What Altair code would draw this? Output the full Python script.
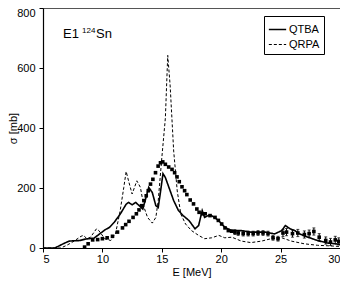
import altair as alt
import pandas as pd

# QTBA (solid)
qtba_e = [5.0, 6.0, 6.2, 6.7, 7.2, 8.1, 8.6, 9.3, 9.7, 10.2, 10.6, 11.0, 11.5, 12.0, 12.2, 12.5, 12.8,
          13.1, 13.4, 13.6, 13.9, 14.2, 14.5, 14.7, 14.9, 15.1, 15.3, 15.6, 16.0, 16.4, 16.8, 17.3,
          17.8, 18.1, 18.4, 18.6, 18.9, 19.2, 19.8, 20.3, 20.9, 21.7, 22.5, 23.7, 24.5, 25.1, 25.4,
          25.8, 26.2, 26.6, 27.3, 28.1, 28.9, 30.0]
qtba_s = [0, 0, 4, 14, 23, 25, 30, 33, 45, 60, 69, 86, 113, 146, 152, 144, 152,
          141, 130, 158, 202, 185, 141, 135, 190, 248, 235, 202, 158, 125, 108, 91,
          64, 75, 125, 102, 108, 108, 91, 69, 58, 58, 53, 53, 47, 58, 75,
          64, 58, 47, 36, 25, 17, 12]

# QRPA (dashed)
qrpa_e = [5.0, 6.5, 7.0, 7.5, 8.2, 8.4, 8.7, 9.0, 9.5, 9.7, 10.2, 10.7, 11.1, 11.5, 11.8, 12.0,
          12.2, 12.5, 12.7, 12.9, 13.2, 13.5, 13.8, 14.2, 14.5, 14.7, 15.0, 15.3, 15.5, 15.7, 16.0,
          16.3, 16.6, 17.0, 17.5, 18.1, 18.6, 19.2, 19.8, 20.3, 20.9, 21.7, 22.5, 23.4, 24.2, 25.1,
          25.9, 27.0, 28.1, 29.2, 30.0]
qrpa_s = [0, 0, 9, 20, 39, 42, 31, 36, 64, 58, 31, 25, 47, 125, 202, 255,
          224, 180, 202, 224, 202, 136, 102, 83, 102, 158, 300, 433, 642, 543, 323,
          190, 113, 80, 58, 42, 31, 34, 42, 34, 36, 23, 18, 23, 31, 34,
          23, 14, 9, 7, 5]

# Experiment
exp_e = [8.5, 8.8, 9.18, 9.6, 10.0, 10.4, 10.85, 11.27, 11.69, 11.96, 12.24, 12.58, 12.86, 13.08,
         13.3, 13.5, 13.69, 13.86, 14.05, 14.25, 14.47, 14.69, 14.89, 15.08, 15.3, 15.58, 15.86,
         16.08, 16.28, 16.47, 16.7, 16.92, 17.11, 17.39, 17.67, 17.95, 18.14, 18.42, 18.65, 19.06,
         19.48, 19.76, 20.04, 20.32, 20.6, 20.88, 21.15, 21.43, 21.85, 22.27, 22.69, 23.1, 23.52,
         23.94, 24.36, 24.78, 25.2, 25.5, 26.0, 26.45, 27.0, 27.4, 27.8, 28.25, 28.8, 29.2, 29.6, 29.9]
exp_s = [3, 14, 27, 28, 31, 34, 39, 53, 67, 78, 89, 102, 114, 127,
         141, 158, 174, 191, 213, 229, 251, 273, 284, 287, 279, 270, 262,
         251, 237, 221, 204, 191, 178, 160, 147, 130, 119, 114, 114, 108,
         102, 92, 80, 67, 58, 56, 53, 50, 48, 48, 48, 50, 50,
         48, 34, 31, 50, 53, 48, 50, 45, 48, 55, 36, 25, 20, 27, 22]
exp_err = [0] * 46 + [8, 8, 8, 8, 8, 8, 8, 8, 8, 8, 12, 12, 12, 12, 12, 12, 12, 12, 12, 12, 12, 12]

lines = pd.concat([
    pd.DataFrame({"E": qtba_e, "s": qtba_s, "model": "QTBA"}),
    pd.DataFrame({"E": qrpa_e, "s": qrpa_s, "model": "QRPA"}),
])
exp = pd.DataFrame({"E": exp_e, "s": exp_s, "err": exp_err})
exp["lo"] = exp["s"] - exp["err"]
exp["hi"] = exp["s"] + exp["err"]
errs = exp[exp["err"] > 0]

FONT = "Liberation Sans"
xs = alt.Scale(domain=[5, 30], nice=False, zero=False)
ys = alt.Scale(domain=[0, 800], nice=False)

xaxis = alt.Axis(values=[5 + 2.5 * i for i in range(11)],
                 labelExpr="datum.value % 5 === 0 ? datum.label : ''",
                 tickSize={"condition": {"test": "datum.value % 5 === 0", "value": 4}, "value": 3},
                 grid=False, labelPadding=1, titleY=18, titleBaseline="top")
yaxis = alt.Axis(values=[100 * i for i in range(9)],
                 labelExpr="datum.value % 200 === 0 ? datum.label : ''",
                 tickSize={"condition": {"test": "datum.value % 200 === 0", "value": 4}, "value": 3},
                 labelOffset={"condition": {"test": "datum.value === 800", "value": 5}, "value": 0},
                 grid=False, labelPadding=4, titleX=-25, titleY=120)

line_chart = alt.Chart(lines).mark_line(color="black").encode(
    x=alt.X("E:Q", scale=xs, axis=xaxis, title="E [MeV]"),
    y=alt.Y("s:Q", scale=ys, axis=yaxis, title="σ [mb]"),
    strokeDash=alt.StrokeDash("model:N",
                              scale=alt.Scale(domain=["QTBA", "QRPA"], range=[[1, 0], [3, 2]]),
                              legend=alt.Legend(title=None, orient="none", legendX=221, legendY=8,
                                                symbolType="stroke", symbolSize=300,
                                                symbolStrokeColor="black", symbolStrokeWidth=1.3,
                                                strokeColor="black", fillColor="white", padding=4,
                                                labelFontSize=11, labelFont=FONT, labelColor="black",
                                                labelOffset=2, rowPadding=-3)),
    strokeWidth=alt.StrokeWidth("model:N", scale=alt.Scale(domain=["QTBA", "QRPA"], range=[1.6, 1.0]),
                                legend=None),
    detail="model:N",
)

pts = alt.Chart(exp).mark_square(color="black", size=13, opacity=1).encode(
    x=alt.X("E:Q", scale=xs), y=alt.Y("s:Q", scale=ys))

bars = alt.Chart(errs).mark_errorbar(ticks=alt.TickConfig(size=3), color="black").encode(
    x=alt.X("E:Q", scale=xs), y=alt.Y("lo:Q", scale=ys, title="σ [mb]"), y2="hi:Q")

t1 = alt.Chart(pd.DataFrame({"t": ["E1"]})).mark_text(align="left", baseline="alphabetic", fontSize=13,
                                                      font=FONT, color="black").encode(
    text="t:N", x=alt.value(20), y=alt.value(30))
t2 = alt.Chart(pd.DataFrame({"t": ["124"]})).mark_text(align="left", baseline="alphabetic", fontSize=8,
                                                       font=FONT, color="black").encode(
    text="t:N", x=alt.value(39), y=alt.value(25))
t3 = alt.Chart(pd.DataFrame({"t": ["Sn"]})).mark_text(align="left", baseline="alphabetic", fontSize=13,
                                                      font=FONT, color="black").encode(
    text="t:N", x=alt.value(53), y=alt.value(30))

chart = alt.layer(line_chart, bars, pts, t1, t2, t3).properties(
    width=297, height=240,
    autosize=alt.AutoSizeParams(type="none"),
    padding={"left": 35, "top": 0, "right": 0, "bottom": 30},
).configure_view(stroke="#555", strokeWidth=1).configure_axis(
    labelFont=FONT, titleFont=FONT, labelFontSize=11, titleFontSize=11, titleFontWeight="normal",
    labelColor="black", titleColor="black", domainColor="black", tickColor="black", domainWidth=1.2,
)

chart.save("out.html", embed_options={"renderer": "svg", "actions": False})
